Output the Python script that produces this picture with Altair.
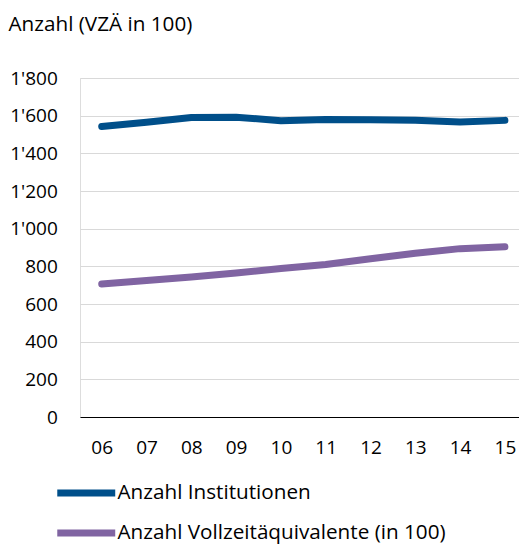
import altair as alt
import pandas as pd

years = ["06", "07", "08", "09", "10", "11", "12", "13", "14", "15"]
institutionen = [1543, 1565, 1590, 1592, 1573, 1580, 1578, 1576, 1566, 1575]
vollzeit = [706, 725, 743, 765, 788, 810, 840, 869, 894, 904]
series_names = ["Anzahl Institutionen", "Anzahl Vollzeitäquivalente (in 100)"]
colors = ["#004F8A", "#8064A2"]
y_ticks = [0, 200, 400, 600, 800, 1000, 1200, 1400, 1600, 1800]

rows = []
for y, a, b in zip(years, institutionen, vollzeit):
    rows.append({"Jahr": y, "Serie": series_names[0], "Wert": a})
    rows.append({"Jahr": y, "Serie": series_names[1], "Wert": b})
df = pd.DataFrame(rows)

FONT = "Open Sans"
FS = 19
FS_TEXT = 20.7

chart = (
    alt.Chart(df)
    .mark_line(strokeWidth=7, strokeCap="round", strokeJoin="round")
    .encode(
        x=alt.X(
            "Jahr:O",
            sort=years,
            scale=alt.Scale(type="point", padding=0.4, align=0.606),
            axis=alt.Axis(
                title=None,
                labelAngle=0,
                ticks=False,
                tickSize=0,
                labelPadding=21,
                domainColor="#000000",
                domainWidth=1,
                grid=False,
                labelFont=FONT,
                labelFontSize=FS,
                labelColor="#000000",
            ),
        ),
        y=alt.Y(
            "Wert:Q",
            scale=alt.Scale(domain=[0, 1800], nice=False),
            axis=alt.Axis(
                title="Anzahl (VZÄ in 100)",
                titleAngle=0,
                titleX=-72,
                titleY=-47.6,
                titleAlign="left",
                titleBaseline="alphabetic",
                titleFont=FONT,
                titleFontSize=FS_TEXT,
                titleFontWeight="normal",
                titleColor="#000000",
                values=y_ticks,
                labelExpr="replace(format(datum.value, ','), ',', \"'\")",
                domain=False,
                ticks=False,
                tickSize=0,
                labelPadding=22.7,
                gridColor="#D9D9D9",
                gridWidth=1,
                labelFont=FONT,
                labelFontSize=FS,
                labelColor="#000000",
            ),
        ),
        color=alt.Color(
            "Serie:N",
            sort=series_names,
            scale=alt.Scale(domain=series_names, range=colors),
            legend=alt.Legend(
                title=None,
                orient="none",
                legendX=-4.75,
                legendY=404,
                direction="vertical",
                symbolType="M-4,0H4",
                symbolSize=210,
                symbolStrokeWidth=7,
                labelFont=FONT,
                labelFontSize=FS_TEXT,
                labelColor="#000000",
                labelOffset=20.25,
                rowPadding=12,
                padding=0,
                labelLimit=500,
            ),
        ),
    )
    .properties(
        width=439,
        height=339,
        autosize=alt.AutoSizeParams(type="none"),
        padding={"left": 72, "top": 70, "right": 0, "bottom": 127},
    )
    .configure_view(stroke=None)
    .configure(background="#ffffff")
)

chart.save("out.html", embed_options={"renderer": "svg", "actions": False})
